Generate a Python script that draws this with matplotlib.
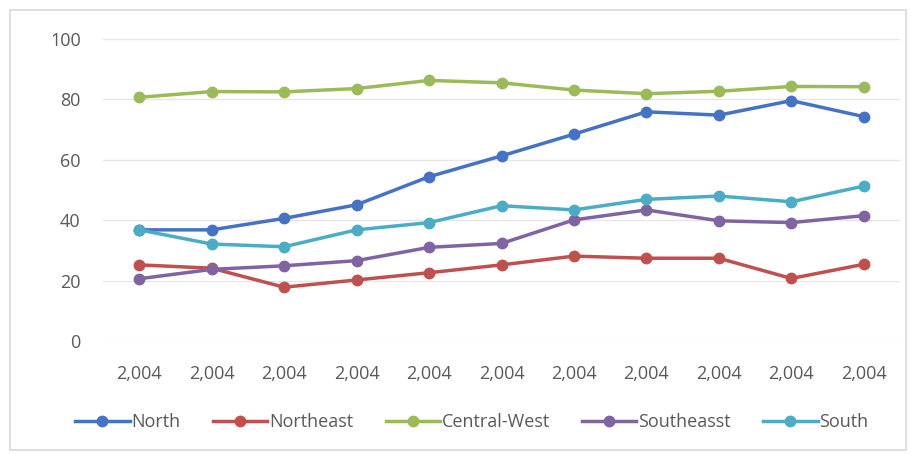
import matplotlib.pyplot as plt
from matplotlib.patches import Rectangle

plt.rcParams['font.family'] = ['Open Sans', 'DejaVu Sans']

years = ['2,004'] * 11
north = [36.8, 36.8, 40.6, 45.1, 54.4, 61.3, 68.5, 75.9, 74.8, 79.6, 74.3]
northeast = [25.2, 24.1, 17.8, 20.2, 22.6, 25.2, 28.1, 27.4, 27.4, 20.7, 25.4]
central_west = [80.7, 82.6, 82.5, 83.6, 86.3, 85.5, 83.1, 81.9, 82.7, 84.3, 84.2]
southeast = [20.6, 23.7, 24.9, 26.6, 31.0, 32.3, 40.1, 43.4, 39.8, 39.2, 41.5]
south = [36.8, 32.1, 31.2, 36.8, 39.2, 44.8, 43.4, 46.9, 48.0, 46.1, 51.3]

series = [("North", north, "#4472C4"),
          ("Northeast", northeast, "#C0504D"),
          ("Central-West", central_west, "#9BBB59"),
          ("Southeasst", southeast, "#8064A2"),
          ("South", south, "#4BACC6")]

fig = plt.figure(figsize=(9.11, 4.54), dpi=100)
fig.patches.append(Rectangle((0.011, 0.008), 0.983, 0.97, transform=fig.transFigure,
                             fill=False, edgecolor="#d9d9d9", linewidth=1.2))
ax = fig.add_axes([0.113, 0.249, 0.875, 0.665])

x = list(range(len(years)))
for name, vals, col in series:
    ax.plot(x, vals, color=col, linewidth=2.5, marker='o', markersize=7.5, label=name)

ax.set_xlim(-0.5, 10.5)
ax.set_ylim(0, 100)
ax.set_yticks([0, 20, 40, 60, 80, 100])
ax.set_xticks(x)
ax.set_xticklabels(years)
ax.tick_params(length=0, labelsize=13, colors="#595959")
ax.tick_params(axis='x', pad=17)
ax.tick_params(axis='y', pad=16)
ax.grid(axis='y', color="#e6e6e6", linewidth=1)
ax.set_axisbelow(True)
for s in ax.spines.values():
    s.set_visible(False)

fig.legend(loc='center', bbox_to_anchor=(0.518, 0.07), ncol=5, frameon=False,
           fontsize=13, handlelength=3.0, columnspacing=1.8, handletextpad=0.1,
           labelcolor="#595959")

fig.savefig("out.png", dpi=100)
